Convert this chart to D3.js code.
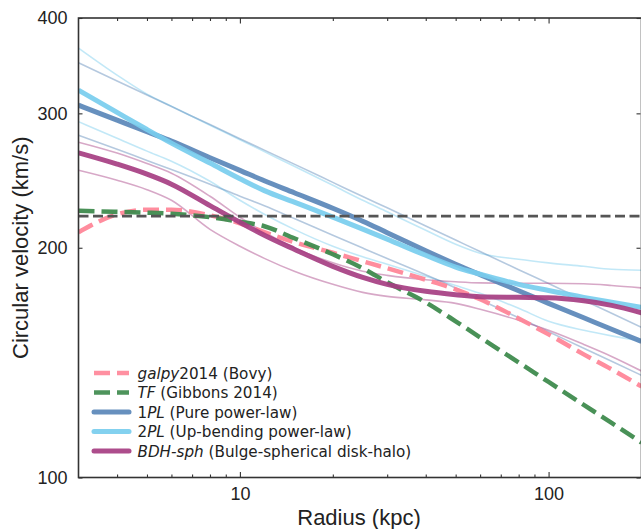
<!DOCTYPE html>
<html>
<head>
<meta charset="utf-8">
<script src="https://cdn.jsdelivr.net/npm/d3@7"></script>
<style>
  html, body { margin: 0; padding: 0; background: #fff; }
  svg { display: block; }
</style>
</head>
<body>
<div id="chart"></div>
<script>
// ---------------- DATA ----------------
const radii = [3, 4, 5, 6, 8, 10, 12, 15, 20, 25, 30, 40, 50, 60, 80, 100, 130, 160, 200];

const galpy2014 = [209.6, 221.3, 224.3, 224.3, 220.6, 215.3, 209.6, 203.4, 197.0, 192.0, 188.0, 181.6, 176.4, 171.2, 161.6, 154.0, 145.0, 138.6, 131.6];
const tfGibbons = [223.6, 222.9, 222.3, 221.6, 219.3, 216.3, 213.4, 205.8, 196.1, 188.0, 180.2, 169.6, 160.2, 152.6, 141.5, 133.4, 124.5, 117.9, 111.1];

const pl1 = [307.5, 293.9, 283.8, 275.9, 262.4, 252.6, 244.8, 236.1, 225.3, 216.7, 209.3, 198.2, 190.3, 184.4, 175.7, 169.1, 161.9, 156.4, 150.8];
const pl1Upper = [349.4, 330.8, 317.0, 306.2, 290.0, 277.9, 268.5, 257.4, 243.6, 233.4, 225.6, 213.6, 204.7, 197.7, 187.2, 179.5, 170.7, 164.1, 157.3];
const pl1Lower = [280.9, 269.3, 260.3, 253.3, 242.3, 233.6, 227.0, 218.4, 207.7, 199.8, 193.6, 184.3, 177.1, 171.0, 161.9, 155.2, 147.7, 142.0, 136.1];

const pl2 = [321.8, 300.9, 285.7, 274.2, 258.2, 246.3, 237.6, 229.5, 219.4, 211.6, 205.3, 195.5, 188.7, 184.7, 179.1, 175.8, 172.2, 169.7, 167.1];
const pl2Upper = [365.3, 336.7, 317.9, 306.6, 289.5, 277.1, 267.3, 255.8, 241.5, 230.8, 222.9, 210.8, 202.1, 196.7, 193.2, 191.1, 189.1, 187.4, 186.9];
const pl2Lower = [292.6, 278.3, 267.7, 259.7, 244.4, 230.8, 221.3, 211.4, 200.9, 194.6, 190.3, 183.5, 178.5, 174.3, 166.6, 160.2, 155.9, 153.3, 151.0];

const bdh = [266.3, 257.4, 249.7, 242.3, 227.1, 216.0, 207.7, 199.1, 189.1, 182.9, 179.1, 175.4, 173.6, 172.5, 172.2, 172.0, 170.4, 168.1, 164.4];
const bdhUpper = [275.0, 266.1, 257.8, 250.4, 233.6, 219.3, 209.6, 200.0, 191.1, 186.3, 184.0, 181.6, 180.5, 179.9, 179.7, 179.7, 179.4, 178.5, 177.2];
const bdhLower = [252.7, 245.2, 238.3, 230.8, 211.4, 200.9, 193.7, 186.3, 179.1, 174.8, 172.7, 170.9, 169.1, 166.1, 160.7, 155.9, 149.4, 144.1, 137.9];

const refVelocity = 220;

const xTickValues = [10, 100];
const yTickValues = [100, 200, 300, 400];
const xMinorTicks = [4, 5, 6, 7, 8, 9, 20, 30, 40, 50, 60, 70, 80, 90];

const legendLabels = [
  [{t: "galpy", i: true}, {t: "2014 (Bovy)"}],
  [{t: "TF", i: true}, {t: " (Gibbons 2014)"}],
  [{t: "1"}, {t: "PL", i: true}, {t: " (Pure power-law)"}],
  [{t: "2"}, {t: "PL", i: true}, {t: " (Up-bending power-law)"}],
  [{t: "BDH-sph", i: true}, {t: " (Bulge-spherical disk-halo)"}]
];

// ---------------- CHART ----------------
const W = 641, H = 529;
const L = 78.5, R = 641.5, T = 18, B = 477.5;

const svg = d3.select("#chart").append("svg").attr("width", W).attr("height", H);

const x = d3.scaleLog().domain([3, 200]).range([L, R]);
const y = d3.scaleLog().domain([100, 400]).range([B, T]);

svg.append("clipPath").attr("id", "plotclip")
  .append("rect").attr("x", L).attr("y", T).attr("width", R - L).attr("height", B - T);

const plot = svg.append("g").attr("clip-path", "url(#plotclip)");

const line = d3.line()
  .x((d, i) => x(radii[i]))
  .y(d => y(d))
  .curve(d3.curveMonotoneX);

const C1 = "#5a87b9", C2 = "#78cdee", C3 = "#a63e82", CP = "#ff8799", CG = "#3f8b4e";

// thin bands
const thin = [
  [pl2Upper, C2], [pl2Lower, C2],
  [pl1Upper, C1], [pl1Lower, C1],
  [bdhUpper, C3], [bdhLower, C3]
];
thin.forEach(([d, c]) => {
  plot.append("path").attr("d", line(d)).attr("fill", "none")
    .attr("stroke", c).attr("stroke-width", 1.6).attr("stroke-opacity", 0.45);
});

// dashed literature curves
plot.append("path").attr("d", line(galpy2014)).attr("fill", "none")
  .attr("stroke", CP).attr("stroke-width", 4.5).attr("stroke-dasharray", "16,7").attr("stroke-opacity", 0.95);
plot.append("path").attr("d", line(tfGibbons)).attr("fill", "none")
  .attr("stroke", CG).attr("stroke-width", 4.5).attr("stroke-dasharray", "16,7").attr("stroke-opacity", 0.95);

// thick model curves
[[pl1, C1], [pl2, C2], [bdh, C3]].forEach(([d, c]) => {
  plot.append("path").attr("d", line(d)).attr("fill", "none")
    .attr("stroke", c).attr("stroke-width", 5).attr("stroke-opacity", 0.92)
    .attr("stroke-linecap", "butt");
});

// reference line
plot.append("line")
  .attr("x1", L).attr("x2", R).attr("y1", y(refVelocity)).attr("y2", y(refVelocity))
  .attr("stroke", "#555").attr("stroke-width", 2.6).attr("stroke-dasharray", "10,4.5");

// axes (ticks inward)
const axisColor = "#333";
const fmt = d => String(d);

const xBottom = svg.append("g").attr("transform", `translate(0,${B})`)
  .call(d3.axisBottom(x).tickValues(xTickValues).tickFormat(fmt).tickSize(-5.5).tickPadding(10));
const xBottomMinor = svg.append("g").attr("transform", `translate(0,${B})`)
  .call(d3.axisBottom(x).tickValues(xMinorTicks).tickFormat("").tickSize(-3));
const xTop = svg.append("g").attr("transform", `translate(0,${T})`)
  .call(d3.axisTop(x).tickValues(xTickValues).tickFormat("").tickSize(-5.5));
const xTopMinor = svg.append("g").attr("transform", `translate(0,${T})`)
  .call(d3.axisTop(x).tickValues(xMinorTicks).tickFormat("").tickSize(-3));
const yLeft = svg.append("g").attr("transform", `translate(${L},0)`)
  .call(d3.axisLeft(y).tickValues(yTickValues).tickFormat(fmt).tickSize(-4).tickPadding(11));
const yRight = svg.append("g").attr("transform", `translate(${R - 1},0)`)
  .call(d3.axisRight(y).tickValues(yTickValues).tickFormat("").tickSize(-4));

[xBottom, xBottomMinor, xTop, xTopMinor, yLeft, yRight].forEach(g => {
  g.select(".domain").remove();
  g.selectAll(".tick line").attr("stroke", axisColor).attr("stroke-width", 1.1);
  g.selectAll(".tick text").attr("fill", "#222")
    .style("font-family", "'Liberation Sans', Arial, sans-serif").style("font-size", "18px");
});

// frame
svg.append("rect").attr("x", L).attr("y", T).attr("width", R - L).attr("height", B - T)
  .attr("fill", "none").attr("stroke", axisColor).attr("stroke-width", 1.6);

// axis labels
svg.append("text").attr("x", (L + R) / 2 - 1).attr("y", 525)
  .attr("text-anchor", "middle").attr("fill", "#222")
  .style("font-family", "'Liberation Sans', Arial, sans-serif").style("font-size", "22px")
  .text("Radius (kpc)");
svg.append("text")
  .attr("transform", `translate(28,${(T + B) / 2}) rotate(-90)`)
  .attr("text-anchor", "middle").attr("fill", "#222")
  .style("font-family", "'Liberation Sans', Arial, sans-serif").style("font-size", "22px")
  .text("Circular velocity (km/s)");

// legend
const legendItems = [
  {c: CP, dash: "16,7", w: 4.5},
  {c: CG, dash: "16,7", w: 4.5},
  {c: C1, dash: null, w: 5},
  {c: C2, dash: null, w: 5},
  {c: C3, dash: null, w: 5}
];
const legendY = [373, 392.5, 412, 431.5, 451];
const lg = svg.append("g");
legendItems.forEach((it, i) => {
  const ly = legendY[i];
  const ln = lg.append("line").attr("x1", 94).attr("x2", 129).attr("y1", ly).attr("y2", ly)
    .attr("stroke", it.c).attr("stroke-width", it.w).attr("stroke-opacity", 0.92)
    .attr("stroke-linecap", it.dash ? "butt" : "round");
  if (it.dash) ln.attr("stroke-dasharray", it.dash);
  const t = lg.append("text").attr("x", 137.5).attr("y", ly + 5.5).attr("fill", "#222")
    .style("font-family", "'DejaVu Sans', sans-serif").style("font-size", "15.2px");
  legendLabels[i].forEach(p => {
    t.append("tspan").text(p.t).style("font-style", p.i ? "italic" : "normal");
  });
});
</script>
</body>
</html>
